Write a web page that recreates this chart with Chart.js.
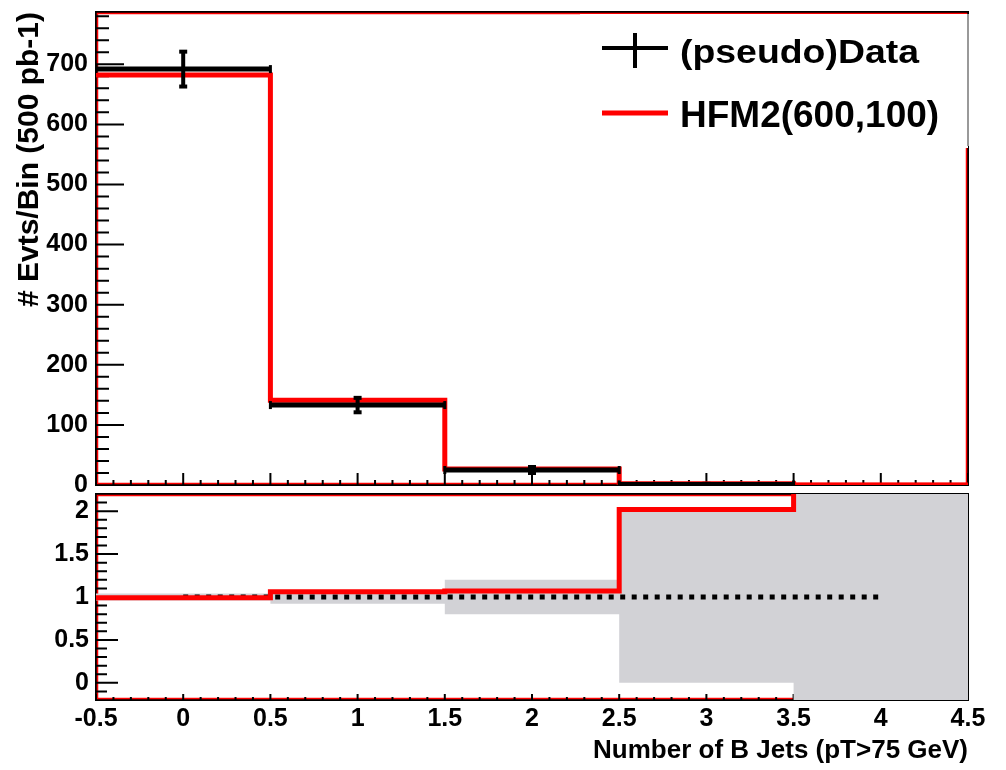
<!DOCTYPE html>
<html lang="en">
<head>
<meta charset="UTF-8">
<title>Number of B Jets</title>
<script src="https://cdn.jsdelivr.net/npm/chart.js"></script>
<style>
    body { margin: 0; padding: 0; background: #fff; }
    .wrap { position: relative; width: 1006px; height: 770px; }
    #mainChart { position: absolute; left: 0; top: 0; }
    #ratioChart { position: absolute; left: 0; top: 493px; }
</style>
</head>
<body>
<div class="wrap">
    <canvas id="mainChart" width="1006" height="493"></canvas>
    <canvas id="ratioChart" width="1006" height="277"></canvas>
</div>
<script>
// binning
const binEdges = [-0.5, 0.5, 1.5, 2.5, 3.5, 4.5];
const binCenters = [0, 1, 2, 3, 4];

// upper pad: pseudo data and signal model
const dataCounts = [692, 133, 25, 1, 0];
const dataErrors = [29, 12, 5, 1, 0];
const mcCounts = [682, 141, 26.5, 2, 0];

// lower pad: ratio, data uncertainty band, reference line
const ratioValues = [0.99, 1.06, 1.07, 2.02, 3.0];   // last bin is off scale
const bandLow = [0.96, 0.92, 0.80, 0.0, -1.0];
const bandHigh = [1.04, 1.08, 1.20, 2.0, 3.0];
const refLineX = [0, 4];
const refLineY = 1;

// tick labels
const xTicks = [-0.5, 0, 0.5, 1, 1.5, 2, 2.5, 3, 3.5, 4, 4.5];
const mainYTicks = [0, 100, 200, 300, 400, 500, 600, 700];
const ratioYTicks = [0, 0.5, 1, 1.5, 2];

const legendLabels = ['(pseudo)Data', 'HFM2(600,100)'];

const RED = '#ff0000';
const BLACK = '#000000';
const GRAY = '#d2d2d6';
const FONT = '"Liberation Sans", Arial, Helvetica, sans-serif';

Chart.defaults.font.family = FONT;
Chart.defaults.font.weight = 'bold';
Chart.defaults.color = BLACK;

function stepPoints(values) {
    const pts = values.map((v, i) => ({ x: binEdges[i], y: v }));
    pts.push({ x: binEdges[values.length], y: values[values.length - 1] });
    return pts;
}

function dataBars() {
    const pts = [];
    dataCounts.forEach((v, i) => {
        if (v <= 0) return;
        pts.push({ x: binEdges[i], y: v }, { x: binEdges[i + 1], y: v }, { x: binEdges[i + 1], y: null });
    });
    return pts;
}

function dataErrorBars() {
    const pts = [];
    dataCounts.forEach((v, i) => {
        if (v <= 0) return;
        pts.push({ x: binCenters[i], y: v - dataErrors[i] }, { x: binCenters[i], y: v + dataErrors[i] }, { x: binCenters[i], y: null });
    });
    return pts;
}

// keep the plot area exactly where the layout padding puts it
function noEdgePadding(s) {
    s.paddingTop = 0;
    s.paddingBottom = 0;
    s.paddingLeft = 0;
    s.paddingRight = 0;
}

// ROOT-like frame with inside tick marks
const rootFrame = {
    id: 'rootFrame',
    beforeDatasetsDraw(chart, args, opts) {
        const { ctx, chartArea: a, scales } = chart;
        ctx.save();
        ctx.lineWidth = 2;
        ctx.strokeStyle = BLACK;
        ctx.strokeRect(a.left, a.top, a.width, a.height);
        ctx.lineWidth = 1.5;
        ctx.strokeStyle = RED;
        ctx.strokeRect(a.left + 1.5, a.top + 1.5, a.width - 3, a.height - 3);

        ctx.lineWidth = 2;
        ctx.strokeStyle = BLACK;
        ctx.beginPath();
        const ty = opts.y;
        for (let k = ty.k0; k <= ty.k1; k++) {
            const py = scales.y.getPixelForValue(k * ty.unit);
            if (py < a.top + 1 || py > a.bottom - 1) continue;
            const len = k % ty.every === 0 ? ty.major : ty.minor;
            ctx.moveTo(a.left, py);
            ctx.lineTo(a.left + len, py);
        }
        const tx = opts.x;
        for (let k = tx.k0; k <= tx.k1; k++) {
            const px = scales.x.getPixelForValue(k * tx.unit);
            const len = k % tx.every === 0 ? tx.major : tx.minor;
            ctx.moveTo(px, a.bottom);
            ctx.lineTo(px, a.bottom - len);
        }
        ctx.stroke();
        ctx.restore();
    }
};

// legend box drawn over the top right of the upper pad
const rootLegend = {
    id: 'rootLegend',
    afterDraw(chart) {
        const { ctx, chartArea: a } = chart;
        const left = a.right - 388;
        ctx.save();
        ctx.fillStyle = '#ffffff';
        ctx.fillRect(left, a.top + 2, 388, 134);
        ctx.strokeStyle = '#999999';
        ctx.lineWidth = 2;
        ctx.beginPath();
        ctx.moveTo(a.right, a.top + 2);
        ctx.lineTo(a.right, a.top + 134);
        ctx.stroke();

        // data marker: line with error bar
        ctx.strokeStyle = BLACK;
        ctx.lineWidth = 4;
        ctx.beginPath();
        ctx.moveTo(left + 22, 48);
        ctx.lineTo(left + 88, 48);
        ctx.moveTo(left + 55, 33);
        ctx.lineTo(left + 55, 68);
        ctx.stroke();

        // model line
        ctx.strokeStyle = RED;
        ctx.lineWidth = 5;
        ctx.beginPath();
        ctx.moveTo(left + 22, 113);
        ctx.lineTo(left + 88, 113);
        ctx.stroke();

        ctx.fillStyle = BLACK;
        ctx.textBaseline = 'alphabetic';
        ctx.font = 'bold 34px ' + FONT;
        ctx.translate(left + 100, 63);
        ctx.scale(1.1, 1);
        ctx.fillText(legendLabels[0], 0, 0);
        ctx.setTransform(1, 0, 0, 1, 0, 0);
        ctx.font = 'bold 37px ' + FONT;
        ctx.fillText(legendLabels[1], left + 100, 127);
        ctx.restore();
    }
};

const tickFont = { size: 25, weight: 'bold' };

const mainChart = new Chart(document.getElementById('mainChart').getContext('2d'), {
    type: 'line',
    data: {
        datasets: [
            {
                label: legendLabels[0],
                data: dataBars(),
                borderColor: BLACK,
                borderWidth: 5,
                pointStyle: 'line',
                pointRotation: 90,
                pointRadius: 4,
                pointBorderWidth: 3,
                pointBorderColor: BLACK,
                order: 0
            },
            {
                label: 'errors',
                data: dataErrorBars(),
                borderColor: BLACK,
                borderWidth: 4,
                pointStyle: 'line',
                pointRadius: 4,
                pointBorderWidth: 4,
                pointBorderColor: BLACK,
                order: 1
            },
            {
                label: legendLabels[1],
                data: stepPoints(mcCounts),
                borderColor: RED,
                borderWidth: 5,
                stepped: true,
                pointRadius: 0,
                order: 2
            }
        ]
    },
    options: {
        responsive: false,
        animation: false,
        events: [],
        layout: { padding: { top: 12, right: 38, bottom: 1, left: 0 } },
        scales: {
            x: { type: 'linear', min: -0.5, max: 4.5, display: false },
            y: {
                type: 'linear',
                min: 0,
                max: 787,
                afterBuildTicks: s => { s.ticks = mainYTicks.map(v => ({ value: v })); },
                afterFit: s => { s.width = 96; noEdgePadding(s); },
                grid: { display: false, drawTicks: false },
                border: { display: false },
                ticks: { font: tickFont, padding: 8, callback: v => String(v) },
                title: {
                    display: true,
                    text: '# Evts/Bin (500 pb-1)',
                    align: 'end',
                    font: { size: 30, weight: 'bold' },
                    padding: { top: 12, bottom: 0 }
                }
            }
        },
        plugins: {
            legend: { display: false },
            tooltip: { enabled: false },
            rootFrame: {
                y: { k0: 0, k1: 39, unit: 20, every: 5, major: 28, minor: 13 },
                x: { k0: -5, k1: 45, unit: 0.1, every: 5, major: 12, minor: 5 }
            }
        }
    },
    plugins: [rootFrame, rootLegend]
});

const ratioChart = new Chart(document.getElementById('ratioChart').getContext('2d'), {
    type: 'line',
    data: {
        datasets: [
            {
                label: 'ratio',
                data: stepPoints(ratioValues),
                borderColor: RED,
                borderWidth: 5,
                stepped: true,
                pointRadius: 0,
                order: 0
            },
            {
                label: 'reference',
                data: refLineX.map(x => ({ x: x, y: refLineY })),
                borderColor: BLACK,
                borderWidth: 5,
                borderDash: [5, 6.5],
                pointRadius: 0,
                order: 1
            },
            {
                label: 'band high',
                data: stepPoints(bandHigh),
                borderWidth: 0,
                borderColor: 'rgba(0,0,0,0)',
                backgroundColor: GRAY,
                stepped: true,
                pointRadius: 0,
                fill: '+1',
                order: 2
            },
            {
                label: 'band low',
                data: stepPoints(bandLow),
                borderWidth: 0,
                borderColor: 'rgba(0,0,0,0)',
                stepped: true,
                pointRadius: 0,
                fill: false,
                order: 3
            }
        ]
    },
    options: {
        responsive: false,
        animation: false,
        events: [],
        layout: { padding: { top: 1, right: 38, bottom: 0, left: 0 } },
        scales: {
            x: {
                type: 'linear',
                min: -0.5,
                max: 4.5,
                afterBuildTicks: s => { s.ticks = xTicks.map(v => ({ value: v })); },
                afterFit: s => { s.height = 70; noEdgePadding(s); },
                grid: { display: false, drawTicks: false },
                border: { display: false },
                ticks: { font: tickFont, padding: 4, autoSkip: false, maxRotation: 0, callback: v => String(v) },
                title: {
                    display: true,
                    text: 'Number of B Jets (pT>75 GeV)',
                    align: 'end',
                    font: { size: 26, weight: 'bold' },
                    padding: { top: 0, bottom: 4 }
                }
            },
            y: {
                type: 'linear',
                min: -0.2,
                max: 2.2,
                afterBuildTicks: s => { s.ticks = ratioYTicks.map(v => ({ value: v })); },
                afterFit: s => { s.width = 96; noEdgePadding(s); },
                grid: { display: false, drawTicks: false },
                border: { display: false },
                ticks: { font: tickFont, padding: 7, callback: v => String(v) }
            }
        },
        plugins: {
            legend: { display: false },
            tooltip: { enabled: false },
            rootFrame: {
                y: { k0: -2, k1: 22, unit: 0.1, every: 5, major: 22, minor: 11 },
                x: { k0: -5, k1: 45, unit: 0.1, every: 5, major: 6, minor: 3 }
            }
        }
    },
    plugins: [rootFrame]
});
</script>
</body>
</html>
